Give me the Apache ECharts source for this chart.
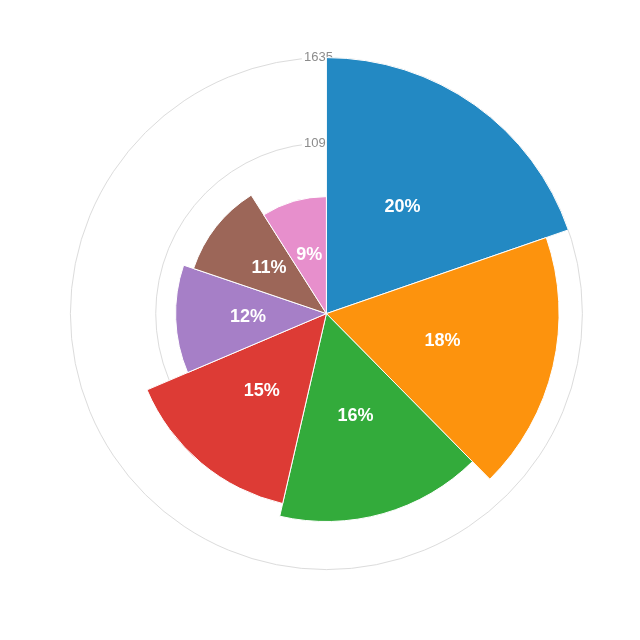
<!DOCTYPE html>
<html>
<head>
<meta charset="utf-8">
<script src="https://cdn.jsdelivr.net/npm/echarts@6/dist/echarts.min.js"></script>
<style>
  html, body { margin: 0; padding: 0; background: #fff; }
  #chart { width: 640px; height: 640px; }
</style>
</head>
<body>
<div id="chart"></div>
<script>
// slices, clockwise from 12 o'clock
var categories = ['A', 'B', 'C', 'D', 'E', 'F', 'G'];
var values     = [1635, 1486, 1328, 1245, 963, 896, 747];
var colors     = ['#2389c3', '#fd930d', '#33ab3b', '#dd3b35', '#a67fc7', '#9c6658', '#e78fcc'];

var maxValue = Math.max.apply(null, values);
var center = ['51%', '49%'];
var outerR = 256;

var pieData = categories.map(function (name, i) {
    return { name: name, value: values[i], itemStyle: { color: colors[i] } };
});

var chart = echarts.init(document.getElementById('chart'));
chart.setOption({
    animation: false,
    backgroundColor: '#fff',
    polar: { center: center, radius: outerR },
    angleAxis: { type: 'value', startAngle: 90, show: false },
    radiusAxis: {
        type: 'value',
        min: 0,
        max: maxValue,
        interval: maxValue / 3,
        axisLine: { show: false },
        axisTick: { show: false },
        splitLine: { show: true, lineStyle: { color: '#dcdcdc', width: 1 } },
        axisLabel: {
            showMinLabel: false,
            color: '#8c8c8c',
            fontSize: 13,
            fontFamily: 'Liberation Sans, Arial, sans-serif',
            align: 'center',
            margin: 8,
            backgroundColor: '#fff',
            padding: [0, 2],
            formatter: function (v) { return String(Math.round(v)); }
        }
    },
    series: [{
        type: 'pie',
        roseType: 'radius',
        center: center,
        radius: [0, outerR],
        startAngle: 90,
        clockwise: true,
        z: 5,
        emphasis: { disabled: true },
        itemStyle: { borderColor: '#fff', borderWidth: 1 },
        label: {
            show: true,
            position: 'inside',
            color: '#fff',
            fontWeight: 'bold',
            fontSize: 18,
            fontFamily: 'Liberation Sans, Arial, sans-serif',
            formatter: function (p) { return Math.round(p.percent) + '%'; }
        },
        labelLine: { show: false },
        data: pieData
    }]
});
</script>
</body>
</html>
